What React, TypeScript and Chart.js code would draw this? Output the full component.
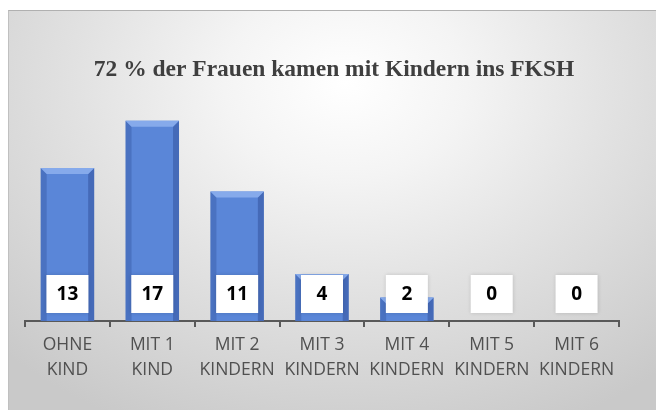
import React, { useEffect, useRef } from "react";
import { Chart, registerables } from "chart.js";

Chart.register(...registerables);

const titleText = "72 % der Frauen kamen mit Kindern ins FKSH";
const categories: string[][] = [
  ["OHNE", "KIND"],
  ["MIT 1", "KIND"],
  ["MIT 2", "KINDERN"],
  ["MIT 3", "KINDERN"],
  ["MIT 4", "KINDERN"],
  ["MIT 5", "KINDERN"],
  ["MIT 6", "KINDERN"],
];
const values: number[] = [13, 17, 11, 4, 2, 0, 0];

const bevelPlugin = {
  id: "bevel",
  afterDatasetsDraw(chart: any) {
    const ctx = chart.ctx;
    const meta = chart.getDatasetMeta(0);
    meta.data.forEach((bar: any) => {
      const { x, y, base, width } = bar.getProps(["x", "y", "base", "width"], true);
      const h = base - y;
      if (h <= 0.5) return;
      const l = x - width / 2;
      const r = x + width / 2;
      const b = Math.min(6, h / 2);
      ctx.save();
      ctx.fillStyle = "rgba(40,70,140,0.3)";
      ctx.beginPath();
      ctx.moveTo(l, y);
      ctx.lineTo(l + b, y + b);
      ctx.lineTo(l + b, base);
      ctx.lineTo(l, base);
      ctx.closePath();
      ctx.fill();
      ctx.fillStyle = "rgba(40,70,140,0.42)";
      ctx.beginPath();
      ctx.moveTo(r, y);
      ctx.lineTo(r - b, y + b);
      ctx.lineTo(r - b, base);
      ctx.lineTo(r, base);
      ctx.closePath();
      ctx.fill();
      ctx.fillStyle = "#86aaeb";
      ctx.beginPath();
      ctx.moveTo(l, y);
      ctx.lineTo(r, y);
      ctx.lineTo(r - b, y + b);
      ctx.lineTo(l + b, y + b);
      ctx.closePath();
      ctx.fill();
      ctx.restore();
    });
  },
};

const labelPlugin = {
  id: "boxLabels",
  afterDatasetsDraw(chart: any) {
    const ctx = chart.ctx;
    const meta = chart.getDatasetMeta(0);
    const yScale = chart.scales.y;
    const baseY = yScale.getPixelForValue(0);
    meta.data.forEach((bar: any, i: number) => {
      const cx = bar.x;
      const cy = baseY - 27;
      ctx.save();
      ctx.shadowColor = "rgba(0,0,0,0.15)";
      ctx.shadowBlur = 4;
      ctx.fillStyle = "#ffffff";
      ctx.fillRect(cx - 21, cy - 19, 42, 38);
      ctx.shadowBlur = 0;
      ctx.fillStyle = "#000000";
      ctx.font = "bold 19px 'Open Sans'";
      ctx.textAlign = "center";
      ctx.textBaseline = "middle";
      ctx.fillText(String(values[i]), cx, cy + 1);
      ctx.restore();
    });
  },
};

const titlePlugin = {
  id: "customTitle",
  afterDraw(chart: any) {
    const ctx = chart.ctx;
    ctx.save();
    ctx.fillStyle = "#3f3f3f";
    ctx.font = "bold 23.5px 'Liberation Serif'";
    ctx.textAlign = "center";
    ctx.textBaseline = "middle";
    ctx.fillText(titleText, 325, 59);
    ctx.restore();
  },
};

export default function App() {
  const ref = useRef<HTMLCanvasElement>(null);
  useEffect(() => {
    document.body.style.overflow = "hidden";
    const chart = new Chart(ref.current!, {
      type: "bar",
      data: {
        labels: categories,
        datasets: [
          {
            data: values,
            backgroundColor: "#5a86d8",
            borderWidth: 0,
            categoryPercentage: 1,
            barPercentage: 0.63,
          },
        ],
      },
      options: {
        animation: false,
        responsive: true,
        maintainAspectRatio: false,
        layout: { padding: { left: 16, right: 37, top: 98, bottom: 22 } },
        plugins: {
          legend: { display: false },
          title: { display: false },
          tooltip: { enabled: false },
        },
        scales: {
          y: {
            display: false,
            min: 0,
            max: 18,
          },
          x: {
            border: { display: true, color: "#595959", width: 2 },
            grid: {
              display: true,
              offset: true,
              drawOnChartArea: false,
              drawTicks: true,
              tickLength: 6,
              color: "#595959",
              lineWidth: 2,
            },
            ticks: {
              color: "#505050",
              font: { family: "'Open Sans'", size: 17.5, lineHeight: 1.4 },
              padding: 6,
              maxRotation: 0,
              autoSkip: false,
            },
          },
        },
      },
      plugins: [bevelPlugin, labelPlugin, titlePlugin],
    });
    return () => chart.destroy();
  }, []);
  return (
    <div
      style={{
        position: "absolute",
        left: 8,
        top: 10,
        width: 648,
        height: 400,
        boxSizing: "border-box",
        borderTop: "1px solid #b0b0b0",
        borderLeft: "1px solid #c0c0c0",
        background:
          "radial-gradient(ellipse 75% 95% at 52% 18%, #ffffff 0%, #f4f4f4 25%, #e2e2e2 55%, #c9c9c9 100%)",
      }}
    >
      <canvas ref={ref} />
    </div>
  );
}
